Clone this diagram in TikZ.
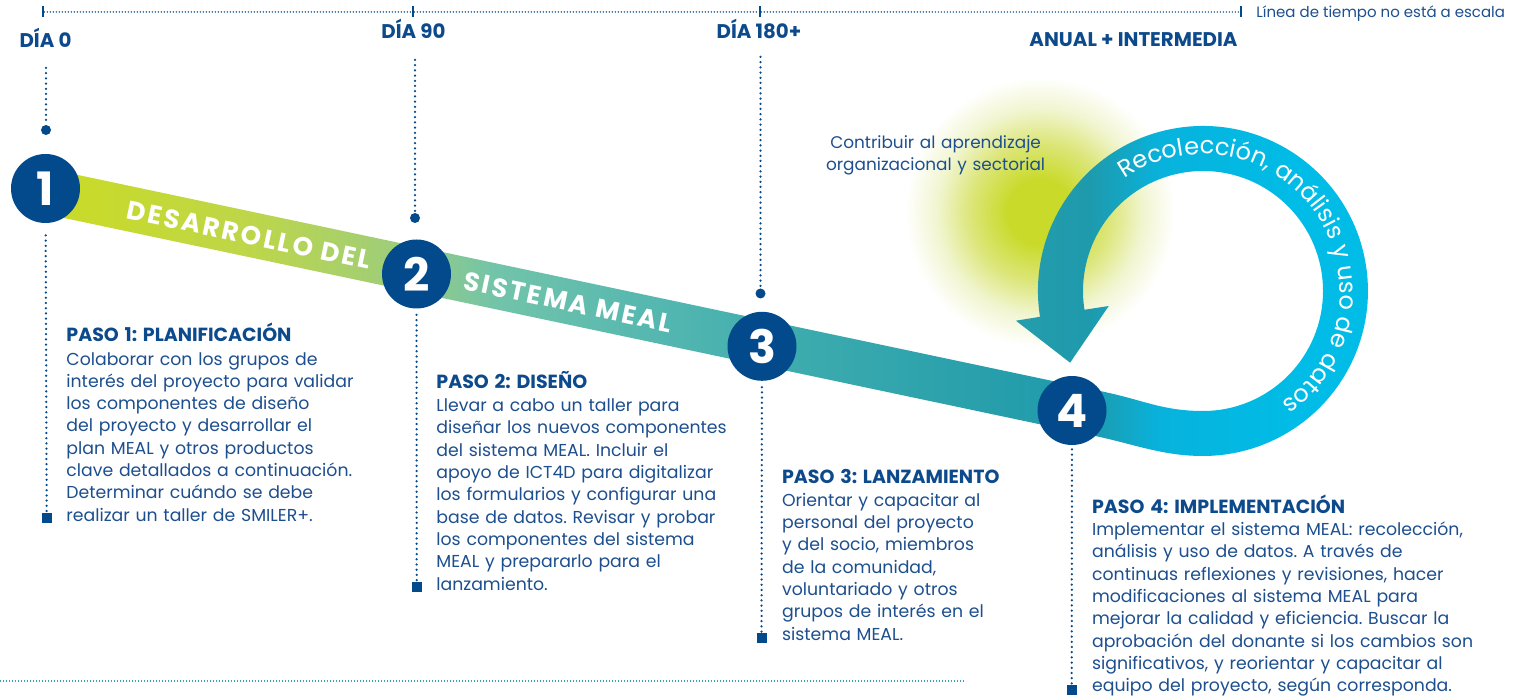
\documentclass[tikz,border=0pt]{standalone}
\usepackage{fontspec}
\setmainfont{Poppins}
\usetikzlibrary{decorations.text,calc}
\frenchspacing
\definecolor{navy}{HTML}{034A8D}
\definecolor{txtblue}{HTML}{1D4F8F}
\definecolor{hdblue}{HTML}{0D4A8B}
\definecolor{dotteal}{HTML}{35A6B6}
\definecolor{lime}{HTML}{C8DA2C}
\definecolor{bA}{HTML}{BDD64A}
\definecolor{bB}{HTML}{9DCD7C}
\definecolor{bC}{HTML}{72C4A9}
\definecolor{bD}{HTML}{57B8B0}
\definecolor{bE}{HTML}{3CABAE}
\definecolor{bF}{HTML}{269EAB}
\definecolor{bG}{HTML}{1E9AAD}
\definecolor{bH}{HTML}{07B3DD}
\definecolor{bI}{HTML}{00BCE6}
\definecolor{glowc}{HTML}{C9DA2A}
\definecolor{glowm}{HTML}{DCE67A}
\definecolor{glowl}{HTML}{F1F5CF}
\pgfdeclarehorizontalshading{bandshade}{100bp}{color(0bp)=(lime); color(27bp)=(lime); color(33bp)=(bA); color(38.5bp)=(bB); color(42bp)=(bC); color(47.6bp)=(bD); color(53.6bp)=(bE); color(61bp)=(bF); color(64.3bp)=(bG); color(67bp)=(bH); color(72bp)=(bI); color(100bp)=(bI)}
\pgfdeclareradialshading{glowshade}{\pgfpoint{0bp}{0bp}}{color(0bp)=(glowc); color(6bp)=(glowc); color(13bp)=(glowm); color(19bp)=(glowl); color(25bp)=(white); color(50bp)=(white)}
\newcommand{\stephead}[1]{{\fontsize{9.5}{11.15}\selectfont\bfseries\color{hdblue}#1}}
\begin{document}
\begin{tikzpicture}[x=0.5pt,y=-0.5pt,
  numcirc/.style={circle,fill=navy,minimum size=34.5pt,inner sep=0pt,text=white,font=\fontsize{23}{23}\selectfont\bfseries},
  vdot/.style={navy,line width=1.25pt,line cap=round,dash pattern=on 0pt off 2.6pt},
  tldot/.style={navy,line width=0.8pt,line cap=round,dash pattern=on 0pt off 1.5pt},
  botdot/.style={dotteal,line width=1.4pt,dash pattern=on 0.6pt off 0.9pt},
  topdot/.style={circle,fill=navy,minimum size=5pt,inner sep=0pt},
  sqr/.style={rectangle,fill=navy,minimum size=5pt,inner sep=0pt},
  tick/.style={rectangle,fill=navy,minimum width=0.9pt,minimum height=5.5pt,inner sep=0pt},
  daylbl/.style={anchor=base,text=hdblue,font=\fontsize{9.9}{11}\selectfont\bfseries,inner sep=0pt},
  stepbody/.style={anchor=base west,text width=240pt,align=left,inner sep=0pt,text=txtblue,font=\fontsize{8.65}{11.15}\selectfont},
  bandtxt/.style={text=white,rotate=-11.9,inner sep=0pt,font=\fontsize{13}{13}\selectfont\bfseries\addfontfeatures{LetterSpace=9.5}}
]
\useasboundingbox (0,0) rectangle (1517,699);
\fill[white] (0,0) rectangle (1517,699);

% glow
\path[shading=glowshade] (1040,212) circle[radius=135];

% timeline
\node[tick] (k0) at (43,12) {};
\node[tick] (k1) at (413,12) {};
\node[tick] (k2) at (760,12) {};
\node[tick] (k3) at (1241,12) {};
\draw[tldot] (k0) -- (k1) -- (k2) -- (k3);
\node[anchor=base west,inner sep=0pt,text=txtblue,font=\fontsize{7.5}{8}\selectfont] (scale) at (1256,17.5) {Línea de tiempo no está a escala};

\node[daylbl] (l0) at (45.5,47.5) {DÍA 0};
\node[daylbl] (l1) at (413.5,38.5) {DÍA 90};
\node[daylbl] (l2) at (759,38.5) {DÍA 180+};
\node[daylbl] (l3) at (1133.5,47) {ANUAL + INTERMEDIA};

% band
\path[shading=bandshade] (49.66,169) -- (1104.66,392) .. controls (1143.8,400.3) and (1163,411) .. (1203,411)
  arc[start angle=90,end angle=-189,radius=120]
  -- (1108.7,306.0) -- (1070.1,362.7) -- (1015.9,320.7) -- (1040,316.8)
  arc[start angle=-189,end angle=90,radius=165]
  .. controls (1163,456) and (1134.5,444.3) .. (1095.34,436) -- (40.34,213) -- cycle;

\coordinate (C) at (1203,291);
\path[decorate,decoration={text along path,text align=center,text color=white,
   text={|\fontsize{12}{14}\selectfont|Recolección, análisis y uso de datos}}]
   ($(C)+(-140:137)$) arc[start angle=-140,end angle=70,radius=137];

\node[bandtxt] (bt1) at (249,235) {DESARROLLO DEL};
\node[bandtxt] (bt2) at (568,302) {SISTEMA MEAL};

% vertical connectors
\coordinate (u1) at (46,68);
\coordinate (u2) at (415,60);
\coordinate (u3) at (760.5,57);
\node[topdot] (d1) at (46,130) {};
\node[topdot] (d2) at (415,218) {};
\node[topdot] (d3) at (760.5,293.5) {};
\draw[vdot] (u1) -- (d1);
\draw[vdot] (u2) -- (d2);
\draw[vdot] (u3) -- (d3);

\node[numcirc] (s1) at (45.5,188.5) {1};
\node[numcirc] (s2) at (416.5,274) {2};
\node[numcirc] (s3) at (762,346.3) {3};
\node[numcirc] (s4) at (1072,410.5) {4};

\node[sqr] (q1) at (46.7,518) {};
\node[sqr] (q2) at (416.7,587) {};
\node[sqr] (q3) at (761.5,637.7) {};
\node[sqr] (q4) at (1071.7,690) {};
\draw[vdot,shorten <=6pt] (s1) -- (q1);
\draw[vdot,shorten <=3pt] (s2) -- (q2);
\draw[vdot,shorten <=3pt] (s3) -- (q3);
\draw[vdot,shorten <=2pt] (s4) -- (q4);

% texts
\node[anchor=base,text width=150pt,align=center,inner sep=0pt,text=txtblue,font=\fontsize{8.45}{11.2}\selectfont] (contrib) at (935.6,148.3) {Contribuir al aprendizaje\\organizacional y sectorial};

\node[stepbody] (p1) at (66,341.7) {\stephead{PASO 1: PLANIFICACIÓN}\\[0.55pt]Colaborar con los grupos de\\interés del proyecto para validar\\los componentes de diseño\\del proyecto y desarrollar el\\plan MEAL y otros productos\\clave detallados a continuación.\\Determinar cuándo se debe\\realizar un taller de SMILER+.};

\node[stepbody] (p2) at (436,388.3) {\stephead{PASO 2: DISEÑO}\\[0.55pt]Llevar a cabo un taller para\\diseñar los nuevos componentes\\del sistema MEAL. Incluir el\\apoyo de ICT4D para digitalizar\\los formularios y configurar una\\base de datos. Revisar y probar\\los componentes del sistema\\MEAL y prepararlo para el\\lanzamiento.};

\node[stepbody] (p3) at (781.7,484) {\stephead{PASO 3: LANZAMIENTO}\\Orientar y capacitar al\\personal del proyecto\\y del socio, miembros\\de la comunidad,\\voluntariado y otros\\grupos de interés en el\\sistema MEAL.};

\node[stepbody] (p4) at (1091.7,513.3) {\stephead{PASO 4: IMPLEMENTACIÓN}\\Implementar el sistema MEAL: recolección,\\análisis y uso de datos. A través de\\continuas reflexiones y revisiones, hacer\\modificaciones al sistema MEAL para\\mejorar la calidad y eficiencia. Buscar la\\aprobación del donante si los cambios son\\significativos, y reorientar y capacitar al\\equipo del proyecto, según corresponda.};

% bottom dotted line
\coordinate (b0) at (0,681);
\coordinate (b1) at (965,681);
\draw[botdot] (b0) -- (b1);
\end{tikzpicture}
\end{document}
